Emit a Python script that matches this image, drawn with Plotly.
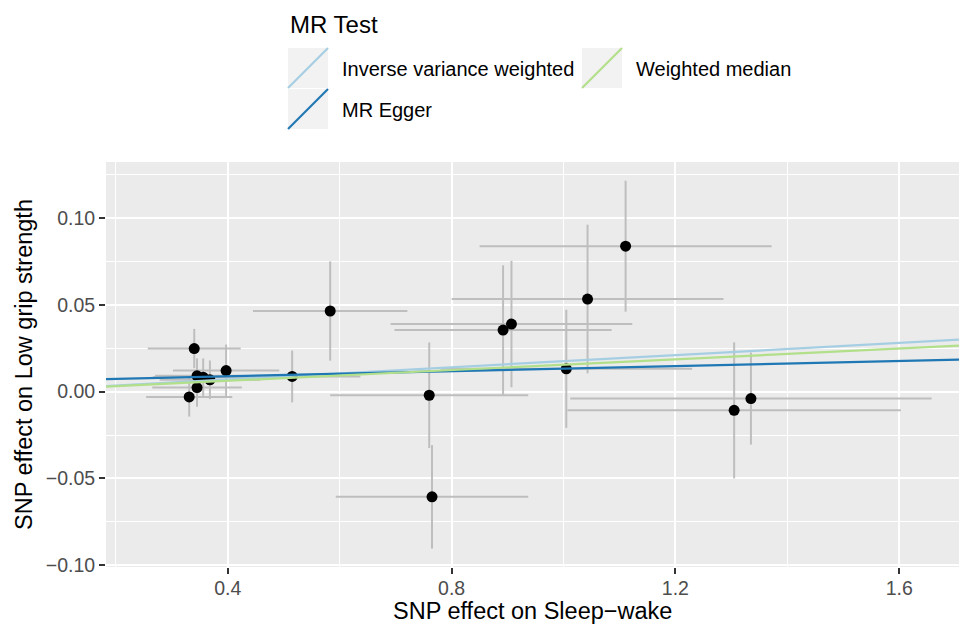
import plotly.graph_objects as go

# ---- data ----
snp_x = [1.111, 1.043, 0.583, 0.907, 0.892, 1.005, 0.760, 0.765, 1.305, 1.335,
         0.340, 0.397, 0.515, 0.345, 0.356, 0.368, 0.345, 0.331]
snp_y = [0.0837, 0.0533, 0.0464, 0.0389, 0.0354, 0.0131, -0.0021, -0.0606, -0.0108, -0.0040,
         0.0248, 0.0121, 0.0087, 0.0091, 0.0083, 0.0068, 0.0023, -0.0031]
err_x = [0.261, 0.243, 0.138, 0.216, 0.194, 0.225, 0.177, 0.172, 0.298, 0.323,
         0.083, 0.095, 0.122, 0.075, 0.090, 0.090, 0.080, 0.077]
err_y = [0.0377, 0.0428, 0.0286, 0.0364, 0.0373, 0.0340, 0.0304, 0.0298, 0.0392, 0.0265,
         0.0113, 0.0150, 0.0149, 0.0100, 0.0108, 0.0111, 0.0110, 0.0113]

methods = ["Inverse variance weighted", "MR Egger", "Weighted median"]
intercepts = [0.0, 0.0059, 0.0]
slopes = [0.0175, 0.0073, 0.0155]
colors = ["#a6cee3", "#1f78b4", "#b2df8a"]

x_ticks = [0.4, 0.8, 1.2, 1.6]
x_ticklabels = ["0.4", "0.8", "1.2", "1.6"]
y_ticks = [-0.10, -0.05, 0.00, 0.05, 0.10]
y_ticklabels = ["\u22120.10", "\u22120.05", "0.00", "0.05", "0.10"]

x_title = "SNP effect on Sleep\u2212wake"
y_title = "SNP effect on Low grip strength"

x_range = [0.1823, 1.7069]
y_range = [-0.101, 0.1322]

W, H = 959, 625
ML, MR, MT, MB = 106, 0, 162, 58
PW, PH = W - ML - MR, H - MT - MB
FONT = "Liberation Sans, Arial, sans-serif"


def px_x(p):
    return (p - ML) / PW


def px_y(p):
    return (H - MB - p) / PH


fig = go.Figure()

fig.add_trace(go.Scatter(
    x=snp_x, y=snp_y, mode="markers",
    marker=dict(color="black", size=11),
    error_x=dict(type="data", array=err_x, color="#bebebe", thickness=2, width=0),
    error_y=dict(type="data", array=err_y, color="#bebebe", thickness=2, width=0),
    showlegend=False, hoverinfo="x+y",
))

for name, a, b, c in zip(methods, intercepts, slopes, colors):
    fig.add_trace(go.Scatter(
        x=x_range, y=[a + b * x_range[0], a + b * x_range[1]],
        mode="lines", line=dict(color=c, width=2.2),
        name=name, showlegend=False,
    ))

# ---- manual ggplot-style legend ----
shapes = []
annotations = []
annotations.append(dict(text="MR Test", x=px_x(288), y=px_y(25), xref="paper", yref="paper",
                        xanchor="left", yanchor="middle", showarrow=False,
                        font=dict(size=24, color="black", family=FONT)))
keys = [(288, 48, methods[0], colors[0]), (288, 89, methods[1], colors[1]),
        (582, 48, methods[2], colors[2])]
for kx, ky, label, c in keys:
    shapes.append(dict(type="rect", xref="paper", yref="paper",
                       x0=px_x(kx), x1=px_x(kx + 40), y0=px_y(ky), y1=px_y(ky + 40),
                       fillcolor="#f2f2f2", line=dict(width=0), layer="above"))
    shapes.append(dict(type="line", xref="paper", yref="paper",
                       x0=px_x(kx), x1=px_x(kx + 40), y0=px_y(ky + 40), y1=px_y(ky),
                       line=dict(color=c, width=2.2), layer="above"))
    annotations.append(dict(text=label, x=px_x(kx + 52), y=px_y(ky + 21),
                            xref="paper", yref="paper", xanchor="left", yanchor="middle",
                            showarrow=False, font=dict(size=20, color="black", family=FONT)))

# x-axis title (placed as annotation to sit tight under tick labels like ggplot)
annotations.append(dict(text=x_title, x=0.5, y=px_y(H), xref="paper", yref="paper",
                        xanchor="center", yanchor="bottom", showarrow=False, borderpad=0,
                        font=dict(size=23.5, color="black", family=FONT)))

fig.update_layout(
    width=W, height=H,
    margin=dict(l=ML, r=MR, t=MT, b=MB, pad=0),
    paper_bgcolor="white", plot_bgcolor="#ebebeb",
    font=dict(family=FONT),
    shapes=shapes, annotations=annotations,
    showlegend=False,
)

fig.update_xaxes(
    range=x_range, tickvals=x_ticks, ticktext=x_ticklabels,
    showgrid=True, gridcolor="white", gridwidth=2.2, zeroline=False,
    ticks="outside", ticklen=6, tickwidth=2, tickcolor="#333333",
    ticklabelstandoff=-2,
    tickfont=dict(size=19.5, color="#4d4d4d", family=FONT),
    minor=dict(dtick=0.2, tick0=0, showgrid=True, gridcolor="white", gridwidth=1.1, ticks=""),
    showline=False,
)
fig.update_yaxes(
    range=y_range, tickvals=y_ticks, ticktext=y_ticklabels,
    showgrid=True, gridcolor="white", gridwidth=2.2, zeroline=False,
    ticks="outside", ticklen=6, tickwidth=2, tickcolor="#333333",
    tickfont=dict(size=19.5, color="#4d4d4d", family=FONT),
    minor=dict(dtick=0.025, tick0=0, showgrid=True, gridcolor="white", gridwidth=1.1, ticks=""),
    title=dict(text=y_title, font=dict(size=23.5, color="black", family=FONT), standoff=6),
    showline=False,
)

fig.write_html("out.html")
